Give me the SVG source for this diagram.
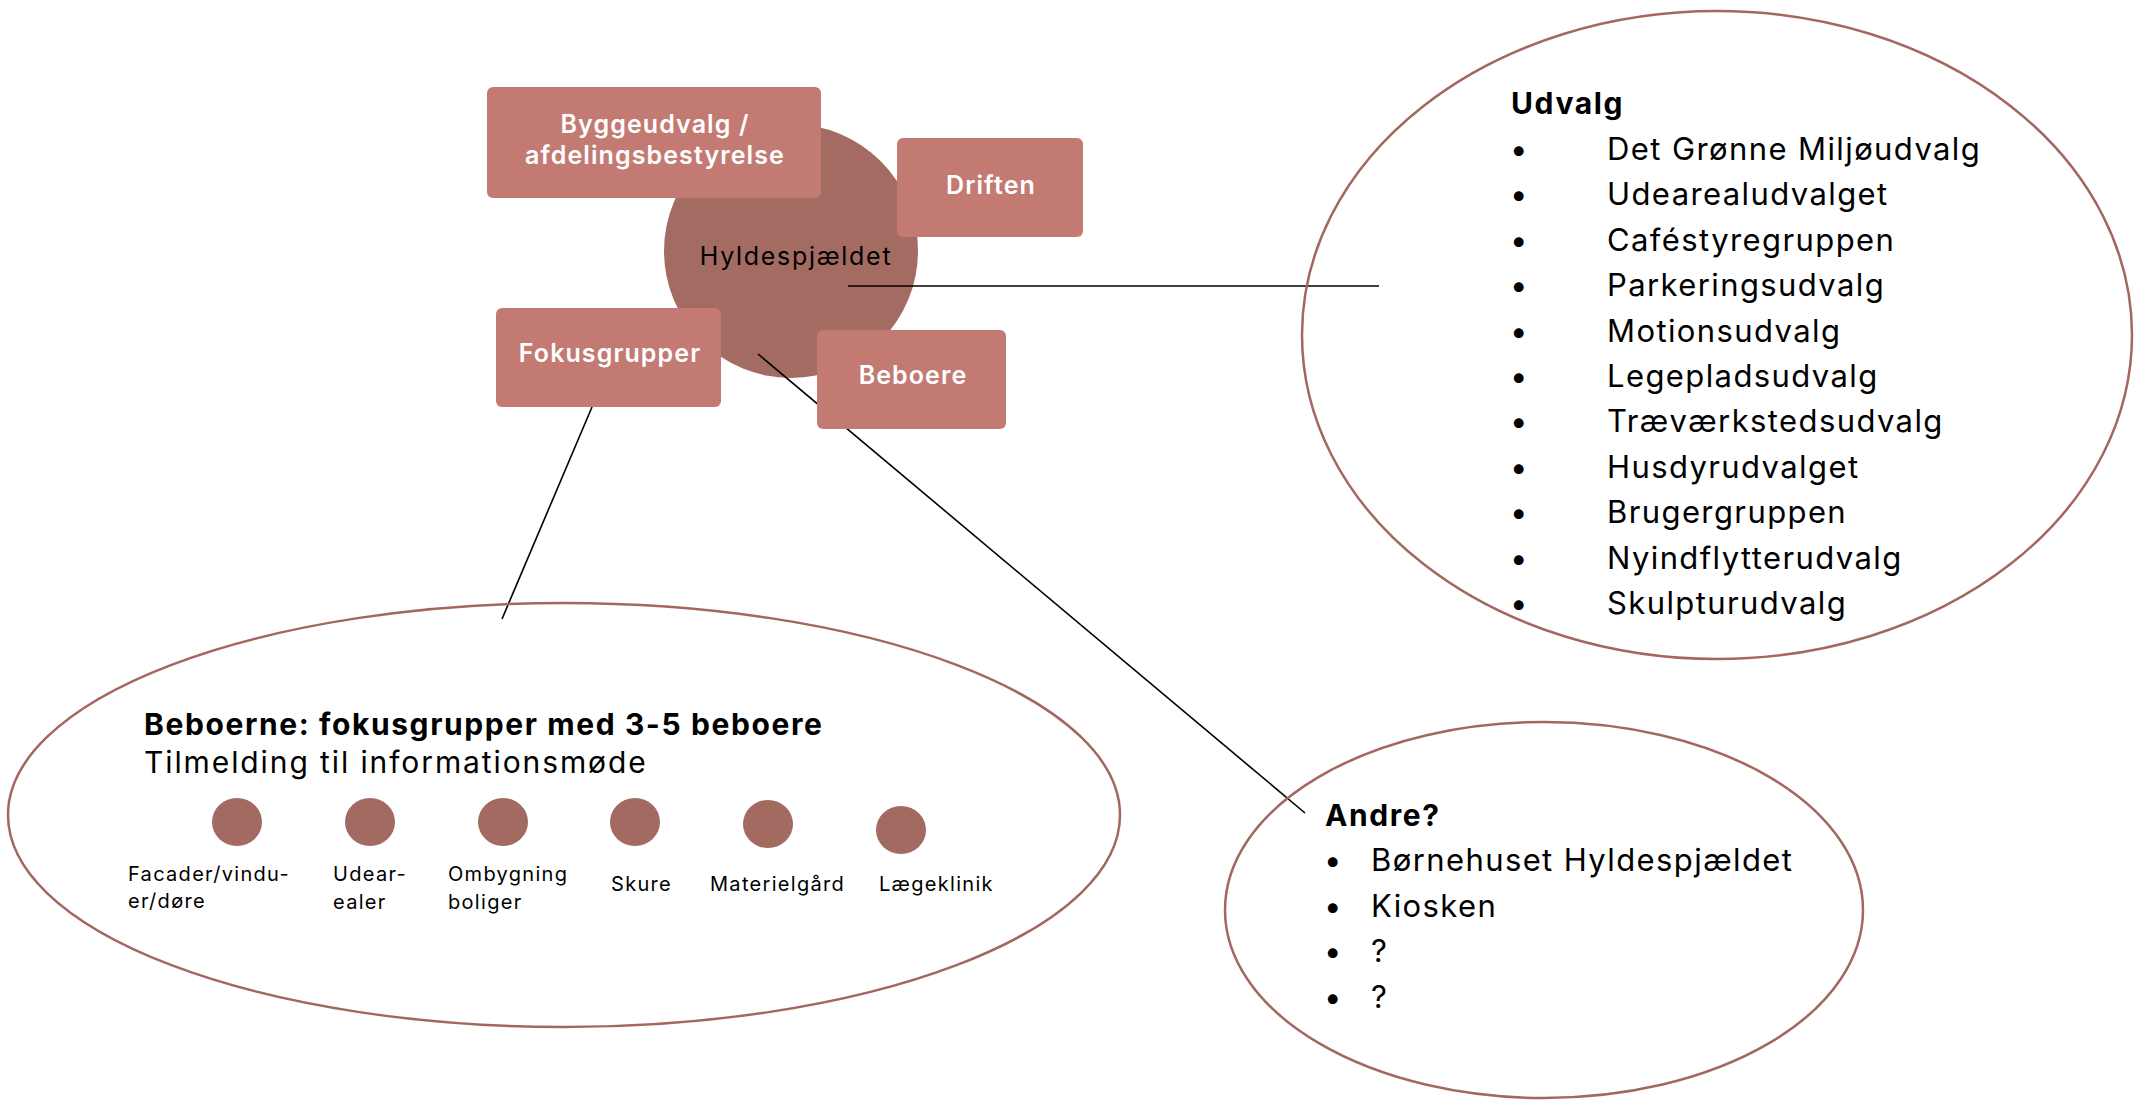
<svg xmlns="http://www.w3.org/2000/svg" width="2143" height="1100" viewBox="0 0 2143 1100">
<style>
text{font-family:Inter,"Noto Sans","DejaVu Sans",sans-serif;fill:#000}
.box{fill:#c27a72}
.bl{fill:#fff;font-size:25px;font-weight:600;letter-spacing:1.1px;text-anchor:middle}
.oval{fill:none;stroke:#a3675f;stroke-width:2.5}
.dot{fill:#a36a62}
.conn{stroke:#000;stroke-width:1.6;fill:none}
.h{font-size:30px;font-weight:700;letter-spacing:1.6px}
.it{font-size:31px;letter-spacing:1.4px}
.sub{font-size:30px;letter-spacing:1.9px}
.sm{font-size:20px;letter-spacing:1.3px}
</style>
<rect width="2143" height="1100" fill="#fff"/>
<g id="hub">
<circle cx="791" cy="251" r="127" fill="#a36b62"/>
<text x="796" y="265" font-size="25" letter-spacing="1.7" text-anchor="middle">Hyldespjældet</text>
</g>
<g id="connectors">
<line class="conn" x1="848" y1="286" x2="1379" y2="286"/>
<line class="conn" x1="758" y1="354" x2="1305" y2="813"/>
<line class="conn" x1="592" y1="407" x2="502" y2="619"/>
</g>
<g id="byggeudvalg">
<rect class="box" x="487" y="87" width="334" height="111" rx="6"/>
<text class="bl" x="655" y="133">Byggeudvalg /</text>
<text class="bl" x="655" y="164">afdelingsbestyrelse</text>
</g>
<g id="driften">
<rect class="box" x="897" y="138" width="186" height="99" rx="6"/>
<text class="bl" x="991" y="194">Driften</text>
</g>
<g id="fokusgrupper">
<rect class="box" x="496" y="308" width="225" height="99" rx="6"/>
<text class="bl" x="610" y="362">Fokusgrupper</text>
</g>
<g id="beboere">
<rect class="box" x="817" y="330" width="189" height="99" rx="6"/>
<text class="bl" x="913" y="384">Beboere</text>
</g>
<g id="udvalg">
<ellipse class="oval" cx="1717" cy="335" rx="415" ry="324"/>
<text class="h" x="1511" y="114">Udvalg</text>
<g class="it">
<text x="1510" y="160">•</text><text x="1607" y="160">Det Grønne Miljøudvalg</text>
<text x="1510" y="205">•</text><text x="1607" y="205">Udearealudvalget</text>
<text x="1510" y="251">•</text><text x="1607" y="251">Caféstyregruppen</text>
<text x="1510" y="296">•</text><text x="1607" y="296">Parkeringsudvalg</text>
<text x="1510" y="342">•</text><text x="1607" y="342">Motionsudvalg</text>
<text x="1510" y="387">•</text><text x="1607" y="387">Legepladsudvalg</text>
<text x="1510" y="432">•</text><text x="1607" y="432">Træværkstedsudvalg</text>
<text x="1510" y="478">•</text><text x="1607" y="478">Husdyrudvalget</text>
<text x="1510" y="523">•</text><text x="1607" y="523">Brugergruppen</text>
<text x="1510" y="569">•</text><text x="1607" y="569">Nyindflytterudvalg</text>
<text x="1510" y="614">•</text><text x="1607" y="614">Skulpturudvalg</text>
</g>
</g>
<g id="andre">
<ellipse class="oval" cx="1544" cy="910" rx="319" ry="188"/>
<text class="h" x="1325" y="826">Andre?</text>
<g class="it">
<text x="1324" y="871">•</text><text x="1371" y="871">Børnehuset Hyldespjældet</text>
<text x="1324" y="917">•</text><text x="1371" y="917">Kiosken</text>
<text x="1324" y="962">•</text><text x="1371" y="962">?</text>
<text x="1324" y="1008">•</text><text x="1371" y="1008">?</text>
</g>
</g>
<g id="beboerne">
<ellipse class="oval" cx="564" cy="815" rx="556" ry="212"/>
<text class="h" x="144" y="735">Beboerne: fokusgrupper med 3-5 beboere</text>
<text class="sub" x="144" y="773">Tilmelding til informationsmøde</text>
<g id="fg-facader"><ellipse class="dot" cx="237" cy="822" rx="25" ry="24"/><text class="sm" x="128" y="881">Facader/vindu-</text><text class="sm" x="128" y="908">er/døre</text></g>
<g id="fg-udearealer"><ellipse class="dot" cx="370" cy="822" rx="25" ry="24"/><text class="sm" x="333" y="881">Udear-</text><text class="sm" x="333" y="909">ealer</text></g>
<g id="fg-ombygning"><ellipse class="dot" cx="503" cy="822" rx="25" ry="24"/><text class="sm" x="448" y="881">Ombygning</text><text class="sm" x="448" y="909">boliger</text></g>
<g id="fg-skure"><ellipse class="dot" cx="635" cy="822" rx="25" ry="24"/><text class="sm" x="611" y="891">Skure</text></g>
<g id="fg-materielgaard"><ellipse class="dot" cx="768" cy="824" rx="25" ry="24"/><text class="sm" x="710" y="891">Materielgård</text></g>
<g id="fg-laegeklinik"><ellipse class="dot" cx="901" cy="830" rx="25" ry="24"/><text class="sm" x="879" y="891">Lægeklinik</text></g>
</g>
</svg>
